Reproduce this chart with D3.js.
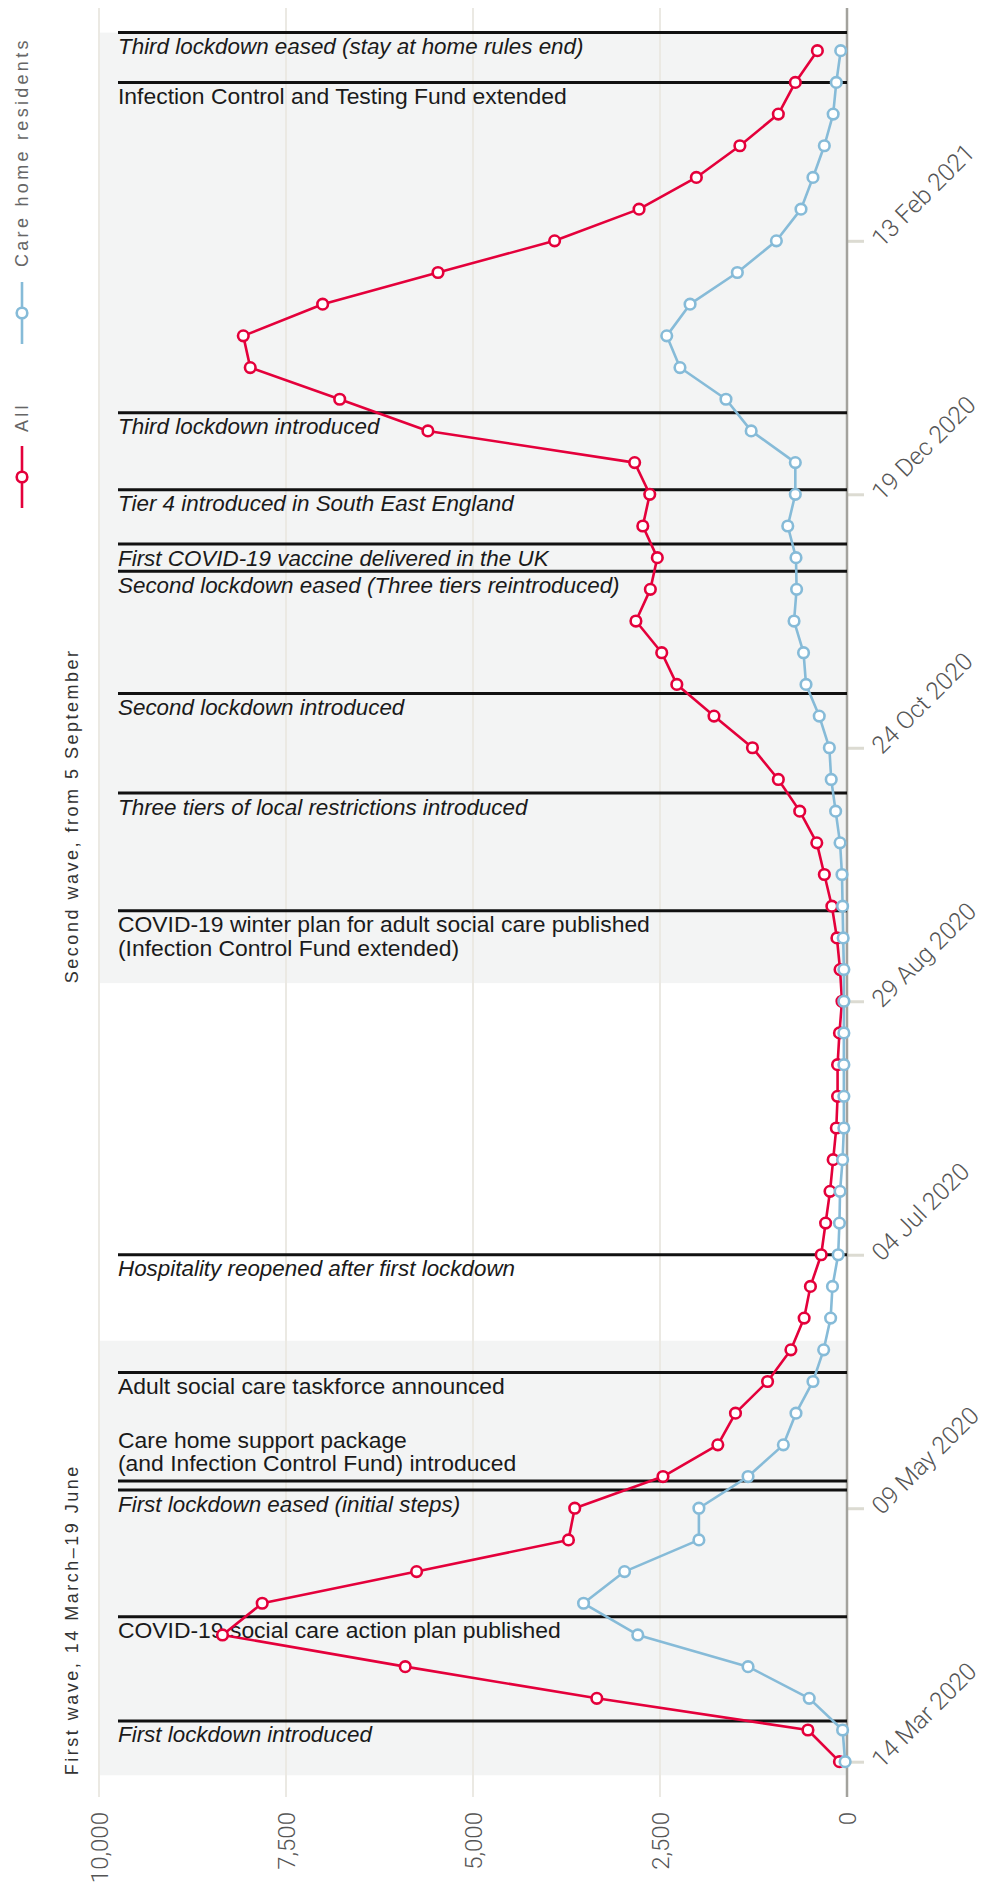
<!DOCTYPE html>
<html><head><meta charset="utf-8">
<script src="https://cdn.jsdelivr.net/npm/d3@7"></script>
<style>
body{margin:0;background:#fff}
svg{display:block}
</style></head><body>
<svg id="chart" width="984" height="1890"></svg>
<script>
// ---------- DATA ----------
const weekDates = [
 "2020-03-14","2020-03-21","2020-03-28","2020-04-04","2020-04-11","2020-04-18","2020-04-25",
 "2020-05-02","2020-05-09","2020-05-16","2020-05-23","2020-05-30","2020-06-06","2020-06-13",
 "2020-06-20","2020-06-27","2020-07-04","2020-07-11","2020-07-18","2020-07-25","2020-08-01",
 "2020-08-08","2020-08-15","2020-08-22","2020-08-29","2020-09-05","2020-09-12","2020-09-19",
 "2020-09-26","2020-10-03","2020-10-10","2020-10-17","2020-10-24","2020-10-31","2020-11-07",
 "2020-11-14","2020-11-21","2020-11-28","2020-12-05","2020-12-12","2020-12-19","2020-12-26",
 "2021-01-02","2021-01-09","2021-01-16","2021-01-23","2021-01-30","2021-02-06","2021-02-13",
 "2021-02-20","2021-02-27","2021-03-06","2021-03-13","2021-03-20","2021-03-27"];

const allDeaths = [
 101, 522, 3345, 5906, 8349, 7818, 5754, 3724, 3640, 2460, 1727, 1491, 1062, 750,
 573, 489, 345, 286, 227, 185, 143, 126, 126, 101, 67, 93, 135, 202,
 303, 404, 632, 918, 1264, 1778, 2275, 2477, 2822, 2629, 2536, 2730, 2637, 2839,
 5603, 6782, 7978, 8071, 7010, 5468, 3909, 2780, 2014, 1432, 918, 691, 396];

const careHomeDeaths = [
 25, 59, 505, 1323, 2797, 3522, 2974, 1980, 1980, 1323, 851, 682, 455, 312,
 219, 194, 118, 101, 93, 59, 42, 42, 42, 42, 42, 42, 51, 59,
 67, 93, 152, 211, 236, 371, 548, 581, 708, 674, 682, 792, 691, 691,
 1281, 1618, 2233, 2410, 2098, 1466, 944, 615, 455, 303, 185, 143, 84];

const seriesNames = ["All", "Care home residents"];
const seriesColors = ["#e4003b", "#86bbd8"];

const valueTicks = [0, 2500, 5000, 7500, 10000];
const dateTicks = ["2020-03-14","2020-05-09","2020-07-04","2020-08-29","2020-10-24","2020-12-19","2021-02-13"];

const eventDates = ["2020-03-23","2020-04-15","2020-05-13","2020-05-15","2020-06-08","2020-07-04",
 "2020-09-18","2020-10-14","2020-11-05","2020-12-02","2020-12-08","2020-12-20","2021-01-06",
 "2021-03-20","2021-03-31"];
const eventLabels = [
 ["First lockdown introduced"],
 ["COVID-19 social care action plan published"],
 ["First lockdown eased (initial steps)"],
 ["Care home support package","(and Infection Control Fund) introduced"],
 ["Adult social care taskforce announced"],
 ["Hospitality reopened after first lockdown"],
 ["COVID-19 winter plan for adult social care published","(Infection Control Fund extended)"],
 ["Three tiers of local restrictions introduced"],
 ["Second lockdown introduced"],
 ["Second lockdown eased (Three tiers reintroduced)"],
 ["First COVID-19 vaccine delivered in the UK"],
 ["Tier 4 introduced in South East England"],
 ["Third lockdown introduced"],
 ["Infection Control and Testing Fund extended"],
 ["Third lockdown eased (stay at home rules end)"]];
const eventItalic = [true,false,true,false,false,true,false,true,true,true,true,true,true,false,true];
const eventAbove  = [false,false,false,true,false,false,false,false,false,false,false,false,false,false,false];

const waveNames = ["First wave, 14 March\u201319 June", "Second wave, from 5 September"];
const waveStart = ["2020-03-11", "2020-09-02"];
const waveEnd   = ["2020-06-15", "2021-03-31"];

// ---------- CHART ----------
const parse = d3.utcParse("%Y-%m-%d");
const svg = d3.select("#chart");

const plotTop = 8, plotBottom = 1797;
const y = d3.scaleUtc()
  .domain([parse(weekDates[0]), parse(weekDates[weekDates.length - 1])])
  .range([1761.7, 50.7]);
const x = d3.scaleLinear().domain([0, 10000]).range([847, 99]);

const labelFont = "'Liberation Sans', Arial, Helvetica, sans-serif";
const lightFont = "Roboto, 'Liberation Sans', Arial, sans-serif";

// wave shading
svg.append("g").selectAll("rect").data(waveNames).join("rect")
  .attr("x", x(10000) + 1)
  .attr("width", x(0) - x(10000) - 1)
  .attr("y", (d, i) => y(parse(waveEnd[i])))
  .attr("height", (d, i) => y(parse(waveStart[i])) - y(parse(waveEnd[i])))
  .attr("fill", "#f3f4f4");

// gridlines
svg.append("g").selectAll("line").data(valueTicks.filter(v => v > 0)).join("line")
  .attr("x1", d => x(d)).attr("x2", d => x(d))
  .attr("y1", plotTop).attr("y2", plotBottom)
  .attr("stroke", "#ebe9e3").attr("stroke-width", 2);

// date axis (right of zero line)
const dateAxis = svg.append("g").attr("transform", `translate(${x(0)},0)`)
  .call(d3.axisRight(y).tickValues(dateTicks.map(parse)).tickSize(17)
        .tickFormat(d3.utcFormat("%d %b %Y")));
dateAxis.select(".domain").remove();
dateAxis.selectAll(".tick line").attr("stroke", "#dcdbd2").attr("stroke-width", 3);
dateAxis.selectAll(".tick text")
  .attr("x", 0).attr("dy", null).attr("text-anchor", "start")
  .attr("transform", "translate(35,7) rotate(-45)")
  .attr("fill", "#555")
  .style("font-family", lightFont).style("font-weight", 300).style("font-size", "24.5px");

// zero axis line
svg.append("line")
  .attr("x1", x(0)).attr("x2", x(0)).attr("y1", plotTop).attr("y2", plotBottom)
  .attr("stroke", "#a3a29d").attr("stroke-width", 2.5);

// value axis (bottom, rotated labels)
const valAxis = svg.append("g").attr("transform", "translate(0,1812)")
  .call(d3.axisBottom(x).tickValues(valueTicks).tickSize(0).tickFormat(d3.format(",")));
valAxis.select(".domain").remove();
valAxis.selectAll(".tick text")
  .attr("x", 0).attr("y", 0).attr("dy", "0.36em").attr("text-anchor", "end")
  .attr("transform", "rotate(-90)")
  .attr("fill", "#555")
  .style("font-family", lightFont).style("font-weight", 300).style("font-size", "24px");

// event lines and labels
const ev = svg.append("g").selectAll("g").data(eventDates).join("g")
  .attr("transform", d => `translate(0,${y(parse(d))})`);
ev.append("line")
  .attr("x1", 118).attr("x2", x(0))
  .attr("stroke", "#111").attr("stroke-width", 3);
ev.each(function(d, i) {
  const g = d3.select(this);
  const lines = eventLabels[i];
  const n = lines.length;
  const t = g.append("text")
    .attr("x", 118)
    .attr("fill", "#1a1a1a")
    .style("font-family", labelFont)
    .style("font-size", eventItalic[i] ? "22.4px" : "22.9px")
    .style("font-style", eventItalic[i] ? "italic" : "normal");
  lines.forEach((ln, k) => {
    const yy = eventAbove[i] ? -10 - (n - 1 - k) * 23.5 : 21.5 + k * 23.5;
    t.append("tspan").attr("x", 118).attr("y", yy).text(ln);
  });
});

// series
const seriesData = [allDeaths, careHomeDeaths];
const line = d3.line().x(d => x(d.v)).y(d => y(d.t));
seriesData.forEach((vals, s) => {
  const pts = vals.map((v, i) => ({ t: parse(weekDates[i]), v }));
  const g = svg.append("g");
  g.append("path").datum(pts).attr("d", line)
    .attr("fill", "none").attr("stroke", seriesColors[s]).attr("stroke-width", 2.6)
    .attr("stroke-linejoin", "round");
  g.selectAll("circle").data(pts).join("circle")
    .attr("cx", d => x(d.v)).attr("cy", d => y(d.t)).attr("r", 5.3)
    .attr("fill", "#fff").attr("stroke", seriesColors[s]).attr("stroke-width", 2.6);
});

// legend (rotated)
const legendTextStart = [432, 267];
const legendMarker = [477, 313];
seriesNames.forEach((name, s) => {
  svg.append("text")
    .attr("transform", `translate(22,${legendTextStart[s]}) rotate(-90)`)
    .attr("dy", "0.36em")
    .attr("fill", "#666")
    .style("font-family", labelFont).style("font-size", "18px").style("letter-spacing", "3.3px")
    .text(name);
  svg.append("line")
    .attr("x1", 22).attr("x2", 22)
    .attr("y1", legendMarker[s] - 31).attr("y2", legendMarker[s] + 31)
    .attr("stroke", seriesColors[s]).attr("stroke-width", 2.6);
  svg.append("circle")
    .attr("cx", 22).attr("cy", legendMarker[s]).attr("r", 5.3)
    .attr("fill", "#fff").attr("stroke", seriesColors[s]).attr("stroke-width", 2.6);
});

// wave labels
waveNames.forEach((name, i) => {
  const yb = y(parse(waveStart[i]));
  svg.append("text")
    .attr("transform", `translate(72,${yb}) rotate(-90)`)
    .attr("dy", "0.36em")
    .attr("fill", "#333")
    .style("font-family", labelFont).style("font-size", "18px").style("letter-spacing", "2.5px")
    .text(name);
});
</script>
</body></html>
